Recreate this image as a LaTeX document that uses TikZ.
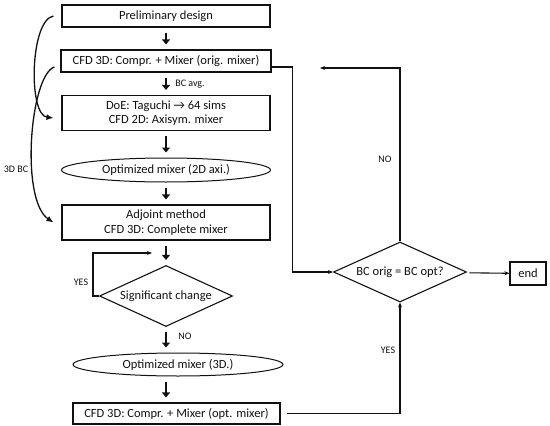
\documentclass[tikz,border=0pt]{standalone}
\usepackage{fontspec}
\setmainfont{Carlito}
\usetikzlibrary{arrows.meta,shapes.geometric}
\definecolor{ink}{HTML}{111111}
\tikzset{
  box/.style={draw=ink, line width=1.1pt, align=center, text=ink, font=\fontsize{12.5}{14.5}\selectfont, inner sep=1pt},
  stepbox/.style={box, minimum width=208pt, minimum height=22pt},
  tallbox/.style={stepbox, minimum height=35pt},
  result/.style={box, ellipse, line width=1pt, minimum width=209pt, minimum height=24pt},
  decision/.style={box, diamond, aspect=2.2, minimum width=133pt, minimum height=61pt, inner sep=0pt},
  flow/.style={-{Triangle[length=5pt,width=8pt]}, line width=2.2pt, draw=ink, shorten <=5pt, shorten >=5pt},
  link/.style={-{Stealth[length=5pt,width=4pt]}, line width=1.1pt, draw=ink},
  bcarrow/.style={-{Latex[length=7pt,width=6pt]}, line width=1.3pt, draw=ink},
  note/.style={font=\fontsize{10}{11}\selectfont, text=ink, inner sep=1pt}
}
\begin{document}
\begin{tikzpicture}[x=1pt, y=-1pt]
\useasboundingbox (0,0) rectangle (550,426);
% main column
\node[stepbox] (prelim) at (166,16) {Preliminary design};
\node[stepbox, minimum width=210pt] (orig) at (166,61) {CFD 3D: Compr. + Mixer (orig. mixer)};
\node[tallbox] (doe) at (166,113) {DoE: Taguchi → 64 sims\\CFD 2D: Axisym. mixer};
\node[result] (ell2d) at (166,170) {Optimized mixer (2D axi.)};
\node[tallbox] (adjoint) at (166,222.5) {Adjoint method\\CFD 3D: Complete mixer};
\node[decision] (sig) at (166,296) {Significant change};
\node[result, minimum width=210pt, minimum height=23pt] (ell3d) at (178,364.5) {Optimized mixer (3D.)};
\node[stepbox, minimum width=207pt, minimum height=21pt] (opt) at (176.5,413.5) {CFD 3D: Compr. + Mixer (opt. mixer)};
% right column
\node[decision, minimum height=60pt] (bc) at (400,272) {BC orig = BC opt?};
\node[box, minimum width=36pt, minimum height=23pt] (end) at (528,273.5) {end};
\coordinate (back) at (152,253);
\coordinate (again) at (320,68);
\node[note] (avg) at (190,84) {BC avg.};
\node[note] (nosig) at (185,336) {NO};
\node[note] (yessig) at (81,282) {YES};
\node[note] (nobc) at (385,159) {NO};
\node[note] (yesbc) at (388,350) {YES};
\node[note] (bclabel) at (16,169) {3D BC};
\draw[flow] (prelim) -- (orig);
\draw[flow] (orig) -- (doe);
\draw[flow] (doe) -- (ell2d);
\draw[flow] (ell2d) -- (adjoint);
\draw[flow] (adjoint) -- (sig);
\draw[flow] (sig.south) -- (sig |- ell3d.north);
\draw[flow] (ell3d.south -| sig) -- (opt.north -| sig);
\draw[link] (sig.west) -- ++(-6,0) |- (back);
\draw[link] ([yshift=-6pt]orig.east) -- ++(21,0) |- (bc.west);
\draw[link] (bc.north) |- (again);
\draw[link, shorten <=6pt] (opt.east) -| (bc.south);
\draw[link, shorten <=4pt] (bc) -- (end);
% boundary conditions handed back along the left side
\draw[bcarrow] ([xshift=-8pt]prelim.west) .. controls (30,20) and (28,115) .. ([xshift=-8pt,yshift=-5pt]doe.west);
\draw[bcarrow] ([xshift=-6pt,yshift=-6pt]orig.west) .. controls (30,75) and (20,200) .. ([xshift=-8pt]adjoint.west);
\end{tikzpicture}
\end{document}
